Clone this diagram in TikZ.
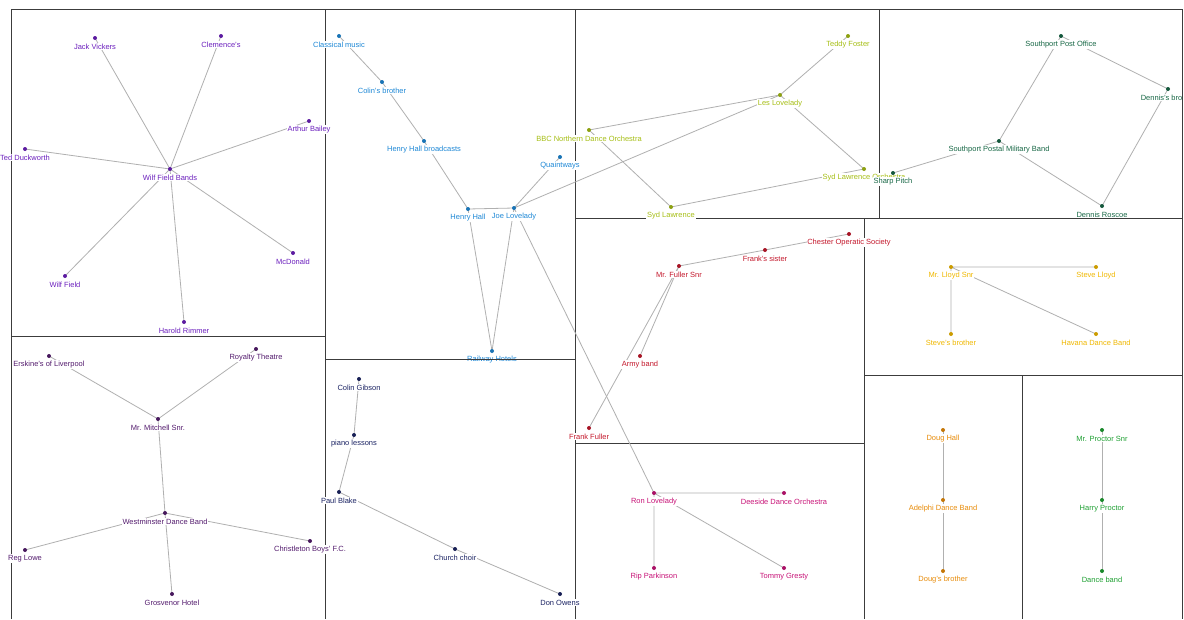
\documentclass[tikz,border=0pt]{standalone}
\usepackage{fontspec}
\setmainfont{Liberation Sans}
\definecolor{cA}{RGB}{108,32,190}
\definecolor{cB}{RGB}{30,136,214}
\definecolor{cC}{RGB}{166,190,20}
\definecolor{cD}{RGB}{24,104,70}
\definecolor{cE}{RGB}{84,28,110}
\definecolor{cF}{RGB}{28,36,100}
\definecolor{cG}{RGB}{196,24,44}
\definecolor{cH}{RGB}{240,184,0}
\definecolor{cI}{RGB}{200,20,120}
\definecolor{cJ}{RGB}{232,140,10}
\definecolor{cK}{RGB}{30,160,50}
\definecolor{edgegray}{RGB}{176,176,176}
\definecolor{framegray}{RGB}{60,60,60}
\tikzset{
  frameline/.style={draw=framegray, line width=0.9pt},
  link/.style={draw=edgegray, line width=0.8pt},
  dotmark/.style={circle, fill=#1!85!black, inner sep=0pt, minimum size=4pt},
  lab/.style={text=#1, fill=white, inner sep=0.8pt, font=\fontsize{7.5}{8}\selectfont},
}
\newcommand\pdot[3]{%
  \node[dotmark=#2] (#1-d) at (#1) {};
  \node[lab=#2] (#1-l) at ([yshift=-8.5pt]#1) {#3};}
\begin{document}
\begin{tikzpicture}[x=1pt,y=-1pt]
\useasboundingbox (0,0) rectangle (1184,619);
\fill[white] (0,0) rectangle (1184,619);
% frames
\coordinate (f1) at (11,9);   \coordinate (f2) at (1182,9);
\coordinate (f3) at (11,619); \coordinate (f4) at (1182,619);
\draw[frameline] (f3) -- (f1) -- (f2) -- (f4);
\coordinate (v1a) at (325,9);  \coordinate (v1b) at (325,619);
\coordinate (v2a) at (575,9);  \coordinate (v2b) at (575,619);
\coordinate (v3a) at (879,9);  \coordinate (v3b) at (879,218);
\coordinate (v4a) at (864,218); \coordinate (v4b) at (864,619);
\coordinate (v5a) at (1022,375); \coordinate (v5b) at (1022,619);
\coordinate (h1a) at (11,336); \coordinate (h1b) at (325,336);
\coordinate (h2a) at (325,359); \coordinate (h2b) at (575,359);
\coordinate (h3a) at (575,218); \coordinate (h3b) at (1182,218);
\coordinate (h4a) at (575,443); \coordinate (h4b) at (864,443);
\coordinate (h5a) at (864,375); \coordinate (h5b) at (1182,375);
\draw[frameline] (v1a)--(v1b) (v2a)--(v2b) (v3a)--(v3b) (v4a)--(v4b) (v5a)--(v5b)
  (h1a)--(h1b) (h3a)--(h3b) (h4a)--(h4b) (h5a)--(h5b);
% ---------- coordinates
% A
\coordinate (jv) at (95,38);
\coordinate (cl) at (221,36);
\coordinate (ab) at (309,121);
\coordinate (td) at (25,149);
\coordinate (wfb) at (170,169);
\coordinate (wf) at (65,276);
\coordinate (mcd) at (293,253);
\coordinate (hr) at (184,322);
% B
\coordinate (cm) at (339,36);
\coordinate (cb) at (382,82);
\coordinate (hhb) at (424,141);
\coordinate (hh) at (468,209);
\coordinate (jl) at (514,208);
\coordinate (qw) at (560,157);
\coordinate (rh) at (492,351);
% C
\coordinate (tf) at (848,36);
\coordinate (ll) at (780,95);
\coordinate (bbc) at (589,130);
\coordinate (slo) at (864,169);
\coordinate (sl) at (671,207);
% D
\coordinate (spo) at (1061,36);
\coordinate (db) at (1168,89);
\coordinate (spmb) at (999,141);
\coordinate (sp) at (893,173);
\coordinate (dr) at (1102,206);
% E
\coordinate (eol) at (49,356);
\coordinate (rt) at (256,349);
\coordinate (mms) at (158,419);
\coordinate (wdb) at (165,513);
\coordinate (rl) at (25,550);
\coordinate (cbf) at (310,541);
\coordinate (gh) at (172,594);
% F
\coordinate (cg) at (359,379);
\coordinate (pl) at (354,435);
\coordinate (pb) at (339,492);
\coordinate (cc) at (455,549);
\coordinate (do) at (560,594);
% G
\coordinate (cos) at (849,234);
\coordinate (fs) at (765,250);
\coordinate (mfs) at (679,266);
\coordinate (ab2) at (640,356);
\coordinate (ff) at (589,428);
% H
\coordinate (mls) at (951,267);
\coordinate (sl2) at (1096,267);
\coordinate (sb) at (951,334);
\coordinate (hdb) at (1096,334);
% I
\coordinate (rnl) at (654,493);
\coordinate (ddo) at (784,493);
\coordinate (rp) at (654,568);
\coordinate (tg) at (784,568);
% J
\coordinate (dh) at (943,430);
\coordinate (adb) at (943,500);
\coordinate (dob) at (943,571);
% K
\coordinate (mps) at (1102,430);
\coordinate (hp) at (1102,500);
\coordinate (dband) at (1102,571);
% ---------- connectors
\draw[link] (wfb)--(jv) (wfb)--(cl) (wfb)--(ab) (wfb)--(td) (wfb)--(wf) (wfb)--(mcd) (wfb)--(hr);
\draw[link] (cm)--(cb) (cb)--(hhb) (hhb)--(hh) (hh)--(jl) (hh)--(rh) (jl)--(rh) (jl)--(qw) (jl)--(ll) (jl)--(rnl);
\draw[link] (tf)--(ll) (ll)--(bbc) (ll)--(slo) (bbc)--(sl) (sl)--(slo);
\draw[link] (spo)--(db) (db)--(dr) (dr)--(spmb) (spmb)--(spo) (spmb)--(sp);
\draw[link] (eol)--(mms) (rt)--(mms) (mms)--(wdb) (wdb)--(rl) (wdb)--(cbf) (wdb)--(gh);
\draw[link] (cg)--(pl) (pl)--(pb) (pb)--(cc) (cc)--(do);
\draw[link] (cos)--(fs) (fs)--(mfs) (mfs)--(ab2) (mfs)--(ff);
\draw[link] (mls)--(sl2) (mls)--(sb) (mls)--(hdb);
\draw[link] (rnl)--(ddo) (rnl)--(rp) (rnl)--(tg);
\draw[link] (dh)--(adb) (adb)--(dob);
\draw[link] (mps)--(hp) (hp)--(dband);
% ---------- dots and labels
\begin{scope}
\clip (0,0) rectangle (1182,619);
\pdot{jv}{cA}{Jack Vickers}
\pdot{cl}{cA}{Clemence's}
\pdot{ab}{cA}{Arthur Bailey}
\pdot{td}{cA}{Ted Duckworth}
\pdot{wfb}{cA}{Wilf Field Bands}
\pdot{wf}{cA}{Wilf Field}
\pdot{mcd}{cA}{McDonald}
\pdot{hr}{cA}{Harold Rimmer}
\pdot{cm}{cB}{Classical music}
\pdot{cb}{cB}{Colin's brother}
\pdot{hhb}{cB}{Henry Hall broadcasts}
\pdot{hh}{cB}{Henry Hall}
\pdot{jl}{cB}{Joe Lovelady}
\pdot{qw}{cB}{Quaintways}
\pdot{rh}{cB}{Railway Hotels}
\pdot{tf}{cC}{Teddy Foster}
\pdot{ll}{cC}{Les Lovelady}
\pdot{bbc}{cC}{BBC Northern Dance Orchestra}
\pdot{slo}{cC}{Syd Lawrence Orchestra}
\pdot{sl}{cC}{Syd Lawrence}
\pdot{spo}{cD}{Southport Post Office}
\pdot{db}{cD}{Dennis's brother}
\pdot{spmb}{cD}{Southport Postal Military Band}
\pdot{sp}{cD}{Sharp Pitch}
\pdot{dr}{cD}{Dennis Roscoe}
\pdot{eol}{cE}{Erskine's of Liverpool}
\pdot{rt}{cE}{Royalty Theatre}
\pdot{mms}{cE}{Mr. Mitchell Snr.}
\pdot{wdb}{cE}{Westminster Dance Band}
\pdot{rl}{cE}{Reg Lowe}
\pdot{cbf}{cE}{Christleton Boys' F.C.}
\pdot{gh}{cE}{Grosvenor Hotel}
\pdot{cg}{cF}{Colin Gibson}
\pdot{pl}{cF}{piano lessons}
\pdot{pb}{cF}{Paul Blake}
\pdot{cc}{cF}{Church choir}
\pdot{do}{cF}{Don Owens}
\pdot{cos}{cG}{Chester Operatic Society}
\pdot{fs}{cG}{Frank's sister}
\pdot{mfs}{cG}{Mr. Fuller Snr}
\pdot{ab2}{cG}{Army band}
\pdot{ff}{cG}{Frank Fuller}
\pdot{mls}{cH}{Mr. Lloyd Snr}
\pdot{sl2}{cH}{Steve Lloyd}
\pdot{sb}{cH}{Steve's brother}
\pdot{hdb}{cH}{Havana Dance Band}
\pdot{rnl}{cI}{Ron Lovelady}
\pdot{ddo}{cI}{Deeside Dance Orchestra}
\pdot{rp}{cI}{Rip Parkinson}
\pdot{tg}{cI}{Tommy Gresty}
\pdot{dh}{cJ}{Doug Hall}
\pdot{adb}{cJ}{Adelphi Dance Band}
\pdot{dob}{cJ}{Doug's brother}
\pdot{mps}{cK}{Mr. Proctor Snr}
\pdot{hp}{cK}{Harry Proctor}
\pdot{dband}{cK}{Dance band}
\end{scope}
% frame lines drawn over labels
\draw[frameline] (h2a)--(h2b) (f2)--(f4);
\end{tikzpicture}
\end{document}
